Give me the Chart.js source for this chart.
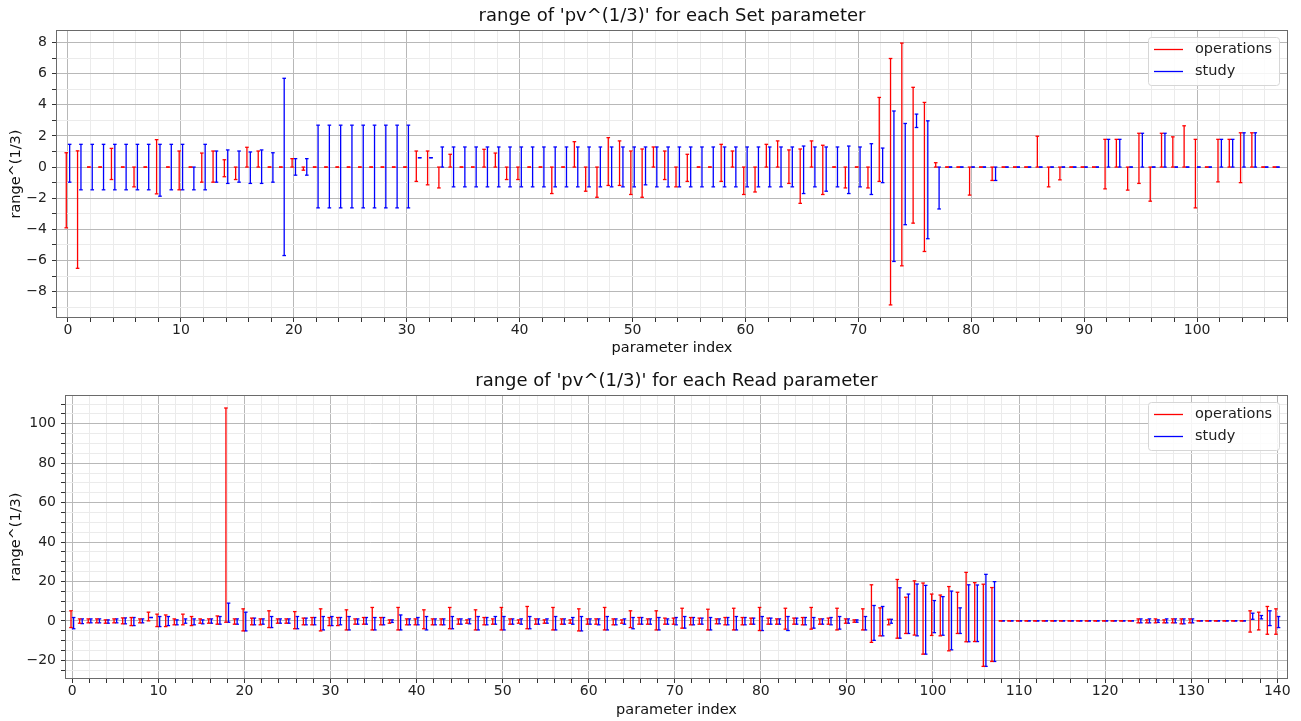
<!DOCTYPE html>
<html>
<head>
<meta charset="utf-8">
<script src="https://cdn.jsdelivr.net/npm/chart.js@4.4.1/dist/chart.umd.min.js"></script>
<style>
  html, body { margin: 0; padding: 0; background: #fff; }
  #wrap { position: relative; width: 1301px; height: 721px; }
  canvas { position: absolute; left: 0; display: block; }
  #setChart { top: 0; }
  #readChart { top: 360px; }
</style>
</head>
<body>
<div id="wrap">
  <canvas id="setChart" width="1301" height="360"></canvas>
  <canvas id="readChart" width="1301" height="361"></canvas>
</div>
<script>
// ---- Set parameters (index 0..107): top / bottom of each range ----
const setOpsMax = [
  0.92, 1.04, 0, 0, 1.2, 0, 0, 0, 1.76, 0,
  1.03, 0, 0.9, 1.03, 0.47, 0, 1.27, 1.03, 0, 0,
  0.54, 0, 0, 0, 0, 0, 0, 0, 0, 0,
  0, 1.03, 1.03, 0, 0.82, 0, 0, 1.14, 0.9, 0,
  0, 0, 0, 0, 0, 1.63, 0, 0, 1.89, 1.68,
  1.03, 1.16, 1.29, 1.03, 0, 0.82, 0, 0, 1.46, 1.03,
  0, 0, 1.46, 1.68, 1.1, 1.16, 1.68, 1.4, 0, 0,
  0, 0, 4.47, 6.97, 7.96, 5.12, 4.15, 0.28, 0, 0,
  0, 0, 0, 0, 0, 0, 1.98, 0, 0, 0,
  0, 0, 1.78, 1.78, 0, 2.17, 0, 2.17, 1.94, 2.65,
  1.78, 0, 1.78, 1.78, 2.2, 2.2, 0, 0
];
const setOpsMin = [
  -3.9, -6.5, 0, 0, -0.8, 0, -1.27, 0, -1.72, 0,
  -1.46, 0, -0.97, -0.97, -0.62, -0.8, 0, 0, 0, 0,
  0, -0.2, 0, 0, 0, 0, 0, 0, 0, 0,
  0, -0.92, -1.14, -1.34, 0, 0, 0, 0, 0, -0.8,
  -0.8, 0, 0, -1.7, 0, 0, -1.55, -1.94, -1.18, -1.18,
  -1.76, -1.94, 0, -0.8, -1.27, -0.92, 0, 0, -0.92, 0,
  -1.76, -1.6, 0, 0, -1.05, -2.33, 0, -1.76, 0, -1.34,
  0, -1.34, -0.92, -8.85, -6.34, -3.6, -5.42, 0, 0, 0,
  -1.8, 0, -0.86, 0, 0, 0, 0, -1.27, -0.82, 0,
  0, 0, -1.4, 0, -1.48, -1.05, -2.19, 0, 0, 0,
  -2.62, 0, -0.95, 0, -1.0, 0, 0, 0
];
const setStudyMax = [
  1.46, 1.46, 1.46, 1.46, 1.46, 1.46, 1.46, 1.46, 1.46, 1.46,
  1.46, 0, 1.46, 1.03, 1.1, 1.03, 0.97, 1.1, 0.92, 5.7,
  0.54, 0.54, 2.69, 2.69, 2.69, 2.69, 2.69, 2.69, 2.69, 2.69,
  2.69, 0.6, 0.6, 1.29, 1.29, 1.29, 1.29, 1.29, 1.29, 1.29,
  1.29, 1.29, 1.29, 1.29, 1.29, 1.29, 1.29, 1.29, 1.29, 1.29,
  1.29, 1.29, 1.29, 1.29, 1.29, 1.29, 1.29, 1.29, 1.29, 1.29,
  1.29, 1.29, 1.29, 1.29, 1.29, 1.35, 1.29, 1.29, 1.29, 1.35,
  1.29, 1.5, 1.22, 3.6, 2.8, 3.4, 2.97, 0, 0, 0,
  0, 0, 0, 0, 0, 0, 0, 0, 0, 0,
  0, 0, 1.78, 1.78, 0, 2.17, 0, 2.17, 0, 0,
  0, 0, 1.78, 1.78, 2.2, 2.2, 0, 0
];
const setStudyMin = [
  -0.97, -1.46, -1.46, -1.46, -1.46, -1.46, -1.46, -1.46, -1.87, -1.46,
  -1.46, -1.46, -1.46, -0.97, -1.05, -0.97, -1.05, -1.05, -0.97, -5.68,
  -0.52, -0.52, -2.62, -2.62, -2.62, -2.62, -2.62, -2.62, -2.62, -2.62,
  -2.62, 0.6, 0.6, 0, -1.27, -1.27, -1.27, -1.27, -1.27, -1.27,
  -1.27, -1.27, -1.27, -1.27, -1.27, -1.27, -1.27, -1.27, -1.27, -1.27,
  -1.27, -1.14, -1.27, -1.27, -1.27, -1.27, -1.27, -1.27, -1.27, -1.27,
  -1.27, -1.27, -1.27, -1.27, -1.27, -1.7, -1.27, -1.55, -1.27, -1.7,
  -1.27, -1.76, -1.0, -6.06, -3.7, 2.54, -4.6, -2.69, 0, 0,
  0, 0, -0.86, 0, 0, 0, 0, 0, 0, 0,
  0, 0, 0, 0, 0, 0, 0, 0, 0, 0,
  0, 0, 0, 0, 0, 0, 0, 0
];

// ---- Read parameters (index 0..140) ----
const readOpsMax = [
  5.1, 1, 1, 1, 0.5, 1, 1.5, 1.7, 1, 4.4,
  3.4, 3, 1, 3.4, 2.2, 1, 1, 2.5, 108, 1,
  6.1, 1.4, 1, 5.1, 1, 1, 4.7, 1.4, 1.7, 6.1,
  1.7, 1.7, 5.6, 1, 1.7, 6.8, 1.7, 0.5, 6.8, 1,
  1, 5.6, 1, 1, 6.8, 1, 0.5, 5.6, 1.7, 1,
  6.8, 1, 0.5, 7.3, 1, 0.5, 6.8, 1, 0.5, 6.1,
  1, 1, 6.8, 1, 0.5, 5.1, 1.7, 1, 5.1, 1.4,
  1.4, 6.4, 1.7, 1.4, 5.9, 1, 1.7, 6.4, 1.7, 1.4,
  6.8, 1.4, 1, 6.4, 1.4, 1.7, 6.8, 1, 1.4, 6.4,
  1, 0.5, 6.1, 18.3, 6.6, 0.8, 21, 12, 20.3, 19.2,
  13.6, 13.1, 17.4, 14.5, 24.6, 19.4, 18.6, 16.9, 0, 0,
  0, 0, 0, 0, 0, 0, 0, 0, 0, 0,
  0, 0, 0, 0, 1, 0.5, 1, 0.5, 1, 1,
  1, 0, 0, 0, 0, 0, 0, 5.1, 4.4, 7.3,
  6.1
];
const readOpsMin = [
  -3.4, -1.2, -1, -1, -1.2, -1, -1.5, -2.4, -1, 0,
  -2.9, -2.9, -2, -2, -2.4, -1.2, -1.2, -1.7, -0.7, -1.7,
  -5.1, -2, -2, -3.4, -1.2, -1.2, -4, -2, -2, -5.1,
  -2.4, -2.4, -4.6, -1.7, -1.7, -4.6, -2, -1.2, -4.6, -2,
  -2, -4, -2, -2, -4, -1.7, -1.2, -4.6, -2, -1.7,
  -4.6, -1.7, -1.2, -4, -1.7, -1.2, -4.6, -1.7, -1.2, -5.1,
  -1.7, -1.7, -4.6, -2, -1.2, -3.4, -1.7, -1.7, -4.6, -1.7,
  -1.7, -3.7, -2, -1.7, -4.6, -1.5, -2, -4.6, -2, -1.7,
  -4.9, -1.7, -1.7, -4.2, -1.7, -2, -4.2, -1.7, -1.7, -4.6,
  -1.2, -0.7, -4.6, -10.9, -7.6, -2, -8.8, -6.4, -7.2, -16.9,
  -7.4, -7.6, -15.2, -6.4, -10.6, -10.5, -23.1, -20.6, 0, 0,
  0, 0, 0, 0, 0, 0, 0, 0, 0, 0,
  0, 0, 0, 0, -1, -1, -1, -1, -1, -1.5,
  -1, 0, 0, 0, 0, 0, 0, -5.7, -4.6, -6.8,
  -6.8
];
const readStudyMax = [
  1.7, 1, 1, 1, 0.5, 1, 1.5, 1.7, 1, 1.7,
  2.2, 2.2, 0.5, 1, 1, 0.5, 1, 2.2, 9, 1,
  4.4, 1.4, 1, 2.2, 1, 1, 2.2, 1.4, 1.7, 2.2,
  2.2, 1.7, 2.2, 1, 1.7, 1.7, 1.7, 0.5, 3, 1,
  1.7, 2.2, 1, 1, 2.2, 1, 1, 2.2, 1.7, 2.2,
  2.2, 1, 1, 2.2, 1, 1, 2.2, 1, 1.7, 2.2,
  1, 1, 2.2, 1, 1, 1.7, 1.7, 1, 1.7, 1,
  1.7, 2.2, 1.7, 1.4, 1.7, 1, 1.7, 2.2, 1.7, 1.4,
  2.2, 1.4, 1, 2.2, 1.4, 1.7, 1.7, 1, 1.7, 2.2,
  1, 0.5, 2.2, 7.8, 7.3, 0.8, 16.8, 13.6, 18.7, 18,
  10.3, 12.3, 15.1, 6.6, 18.3, 18.2, 23.6, 19.9, 0, 0,
  0, 0, 0, 0, 0, 0, 0, 0, 0, 0,
  0, 0, 0, 0, 1, 1, 0.5, 1, 1, 1,
  1, 0, 0, 0, 0, 0, 0, 3.9, 2.7, 5.1,
  2.2
];
const readStudyMin = [
  -4, -1.4, -1, -1, -1.2, -1, -1.5, -2.4, -1, 1.7,
  -2.9, -2.4, -2, -1.2, -2, -1.5, -1.2, -1.7, -0.7, -1.7,
  -5.1, -2, -1.7, -3.4, -1.2, -1.2, -4, -2, -2, -4.6,
  -2.4, -2, -4.6, -1.7, -1.7, -4.6, -2, -0.8, -4.6, -2,
  -2, -4.6, -2, -2, -4, -1.7, -1.5, -4.6, -2, -1.7,
  -4.6, -1.7, -1.7, -4, -1.7, -1.2, -4.6, -1.7, -1.7, -5.1,
  -1.7, -2, -4.6, -2, -1.7, -4, -1.7, -1.7, -4.6, -1.7,
  -2, -3.7, -2, -1.7, -4.6, -1.5, -2, -4.6, -2, -1.7,
  -4.9, -1.7, -1.7, -4.9, -1.7, -2, -3.7, -1.7, -2, -4.2,
  -1.2, -0.7, -4.6, -9.9, -7.6, -1.2, -8.8, -6.4, -7.6, -16.9,
  -6, -7.3, -14.7, -6.4, -10.6, -10.5, -23.1, -20.6, 0, 0,
  0, 0, 0, 0, 0, 0, 0, 0, 0, 0,
  0, 0, 0, 0, -1, -1, -0.8, -1, -1, -1.5,
  -1, 0, 0, 0, 0, 0, 0, 0.8, 1, -2.4,
  -3.4
];

const FONT = "'DejaVu Sans', sans-serif";
const OPS_COLOR = '#ff0000';
const STUDY_COLOR = '#0000ff';
const MAJOR_GRID = '#b8b8b8';
const MINOR_GRID = '#ebebeb';

Chart.defaults.font.family = FONT;
Chart.defaults.color = '#222';

// vertical range segments: bottom -> top, then a gap
function rangeSegments(tops, bottoms, shift) {
    const pts = [];
    tops.forEach((t, i) => {
        pts.push({ x: i + shift, y: bottoms[i] }, { x: i + shift, y: t }, { x: i + shift, y: null });
    });
    return pts;
}

const minus = v => (v < 0 ? '\u2212' + Math.abs(v) : '' + v);

// frame round the plot + matplotlib-like legend in the upper right corner
const frameAndLegend = {
    id: 'frameAndLegend',
    afterDraw(chart) {
        const { ctx, chartArea } = chart;
        ctx.save();
        ctx.strokeStyle = '#6a6a6a';
        ctx.lineWidth = 1;
        ctx.strokeRect(chartArea.left + 0.5, chartArea.top + 0.5, chartArea.width - 1, chartArea.height - 1);

        const w = 131, h = 48;
        const x = chartArea.right - 9 - w, y = chartArea.top + 7;
        ctx.beginPath();
        ctx.roundRect(x + 0.5, y + 0.5, w, h, 3);
        ctx.fillStyle = 'rgba(255,255,255,0.85)';
        ctx.fill();
        ctx.strokeStyle = '#d6d6d6';
        ctx.stroke();

        ctx.font = '14.5px ' + FONT;
        ctx.textBaseline = 'middle';
        chart.data.datasets.forEach((ds, i) => {
            const ly = y + 12.5 + i * 22;
            ctx.beginPath();
            ctx.strokeStyle = ds.borderColor;
            ctx.lineWidth = 1.3;
            ctx.moveTo(x + 6, ly);
            ctx.lineTo(x + 35, ly);
            ctx.stroke();
            ctx.fillStyle = '#222';
            ctx.fillText(ds.label, x + 47, ly);
        });
        ctx.restore();
    }
};

function makeChart(id, cfg) {
    const lineStyle = color => ({
        borderColor: color,
        borderWidth: 1.3,
        pointStyle: 'line',
        pointRadius: 1.8,
        pointBorderColor: color,
        pointBorderWidth: 1.3,
        pointHoverRadius: 1.8,
        spanGaps: false,
        fill: false,
        tension: 0
    });

    return new Chart(document.getElementById(id), {
        type: 'line',
        data: {
            datasets: [
                { label: 'operations', data: rangeSegments(cfg.opsMax, cfg.opsMin, -0.15), ...lineStyle(OPS_COLOR) },
                { label: 'study', data: rangeSegments(cfg.studyMax, cfg.studyMin, 0.15), ...lineStyle(STUDY_COLOR) }
            ]
        },
        options: {
            responsive: false,
            animation: false,
            layout: { padding: { left: 0, right: 13, top: 0, bottom: 0 } },
            plugins: {
                legend: { display: false },
                tooltip: { enabled: false },
                title: {
                    display: true,
                    fullSize: false,
                    text: cfg.title,
                    color: '#111',
                    font: { size: 18, weight: 'normal', lineHeight: 1.2 },
                    padding: cfg.titlePad
                }
            },
            scales: {
                x: {
                    type: 'linear',
                    min: cfg.xMin,
                    max: cfg.xMax,
                    afterFit: s => { s.height = 42; },
                    border: { display: false },
                    grid: {
                        color: c => (c.tick && c.tick.value % 10 === 0 ? MAJOR_GRID : MINOR_GRID),
                        tickColor: '#333',
                        tickLength: 4
                    },
                    ticks: {
                        stepSize: 2,
                        maxTicksLimit: 1000,
                        includeBounds: false,
                        autoSkip: false,
                        maxRotation: 0,
                        padding: 0,
                        font: { size: 14 },
                        callback: v => (v % 10 === 0 ? minus(v) : '')
                    },
                    title: {
                        display: true,
                        text: 'parameter index',
                        color: '#111',
                        font: { size: 14.5 },
                        padding: { top: 2, bottom: cfg.xTitleBottom }
                    }
                },
                y: {
                    min: cfg.yMin,
                    max: cfg.yMax,
                    afterFit: s => { s.width = cfg.yWidth; },
                    border: { display: false },
                    grid: {
                        color: c => (c.tick && c.tick.value % cfg.yMajor === 0 ? MAJOR_GRID : MINOR_GRID),
                        tickColor: '#333',
                        tickLength: 4
                    },
                    ticks: {
                        stepSize: cfg.yMinor,
                        maxTicksLimit: 1000,
                        includeBounds: false,
                        autoSkip: false,
                        padding: 5,
                        font: { size: 14 },
                        callback: v => (v % cfg.yMajor === 0 ? minus(v) : '')
                    },
                    title: {
                        display: true,
                        text: 'range^(1/3)',
                        color: '#111',
                        font: { size: 14.5 },
                        padding: { top: 8, bottom: 0 }
                    }
                }
            }
        },
        plugins: [frameAndLegend]
    });
}

makeChart('setChart', {
    title: "range of 'pv^(1/3)' for each Set parameter",
    titlePad: { top: 6, bottom: 2.4 },
    xTitleBottom: 3.3,
    opsMax: setOpsMax, opsMin: setOpsMin,
    studyMax: setStudyMax, studyMin: setStudyMin,
    xMin: -1.06, xMax: 108.05,
    yMin: -9.69, yMax: 8.8,
    yMajor: 2, yMinor: 1,
    yWidth: 56
});

makeChart('readChart', {
    title: "range of 'pv^(1/3)' for each Read parameter",
    titlePad: { top: 10.2, bottom: 3.2 },
    xTitleBottom: 2.3,
    opsMax: readOpsMax, opsMin: readOpsMin,
    studyMax: readStudyMax, studyMin: readStudyMin,
    xMin: -0.85, xMax: 141.25,
    yMin: -29.5, yMax: 114.6,
    yMajor: 20, yMinor: 5,
    yWidth: 65
});
</script>
</body>
</html>
